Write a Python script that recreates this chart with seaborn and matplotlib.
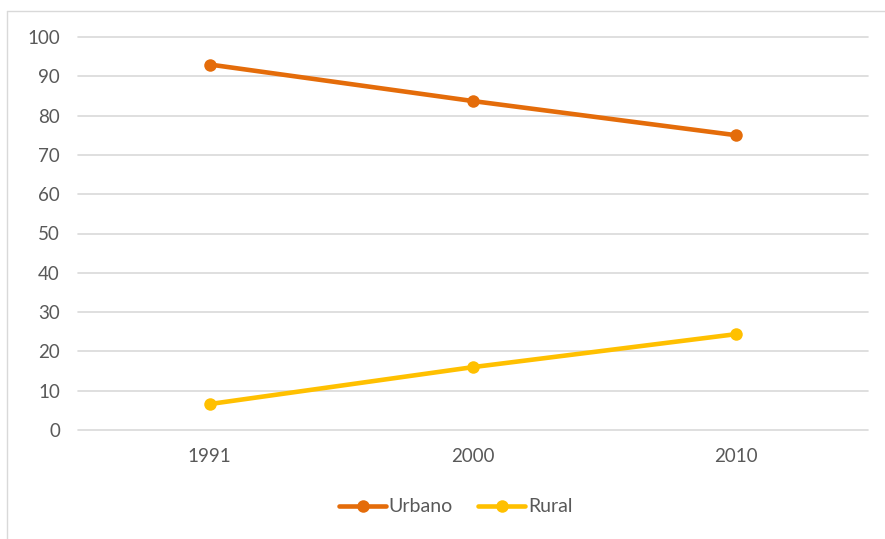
import matplotlib
matplotlib.use("Agg")
import matplotlib.pyplot as plt
import seaborn as sns
import pandas as pd
from matplotlib.lines import Line2D

# Population share (%) by place of residence
anos = ["1991", "2000", "2010"]
urbano = [93.0, 83.7, 75.0]
rural = [6.6, 16.0, 24.4]
series = ["Urbano", "Rural"]
cores = ["#E46C0A", "#FFC000"]
y_ticks = list(range(0, 101, 10))

df = pd.DataFrame({
    "ano": anos * 2,
    "valor": urbano + rural,
    "serie": ["Urbano"] * len(anos) + ["Rural"] * len(anos),
})

sns.set_theme(style="white")
plt.rcParams["font.family"] = ["Lato", "DejaVu Sans"]

fig = plt.figure(figsize=(8.85, 5.39), dpi=100)
ax = fig.add_axes([78 / 885, 1 - 430 / 539, 790 / 885, 393 / 539])

sns.lineplot(
    data=df, x="ano", y="valor", hue="serie", hue_order=series,
    palette=cores, marker="o", markersize=9, markeredgewidth=0,
    linewidth=3.3, sort=False, legend=False, ax=ax,
)

ax.set_xlim(-0.5, len(anos) - 0.5)
ax.set_ylim(0, 100)
ax.set_yticks(y_ticks)
ax.set_xlabel("")
ax.set_ylabel("")
ax.grid(axis="y", color="#D9D9D9", linewidth=1.2)
ax.grid(axis="x", visible=False)
for gl in ax.yaxis.get_gridlines():
    gl.set_clip_on(False)
ax.set_axisbelow(True)
for s in ax.spines.values():
    s.set_visible(False)
ax.tick_params(axis="both", length=0, labelsize=13.5, labelcolor="#595959")
ax.tick_params(axis="y", pad=13)
ax.tick_params(axis="x", pad=13)

handles = [
    Line2D([0], [0], color=c, linewidth=3.3, marker="o", markersize=9,
           markeredgewidth=0)
    for c in cores
]
fig.legend(handles, series, loc="center", bbox_to_anchor=(0.515, 1 - 507 / 539),
           ncol=2, frameon=False, fontsize=14, handlelength=2.4,
           handletextpad=0.15, columnspacing=1.3, labelcolor="#595959")

# chart frame
fig.add_artist(Line2D([7 / 885, 7 / 885], [0, 1 - 11 / 539],
                      transform=fig.transFigure, color="#D9D9D9", linewidth=1))
fig.add_artist(Line2D([7 / 885, 1], [1 - 11 / 539, 1 - 11 / 539],
                      transform=fig.transFigure, color="#D9D9D9", linewidth=1))

fig.savefig("out.png", dpi=100)
